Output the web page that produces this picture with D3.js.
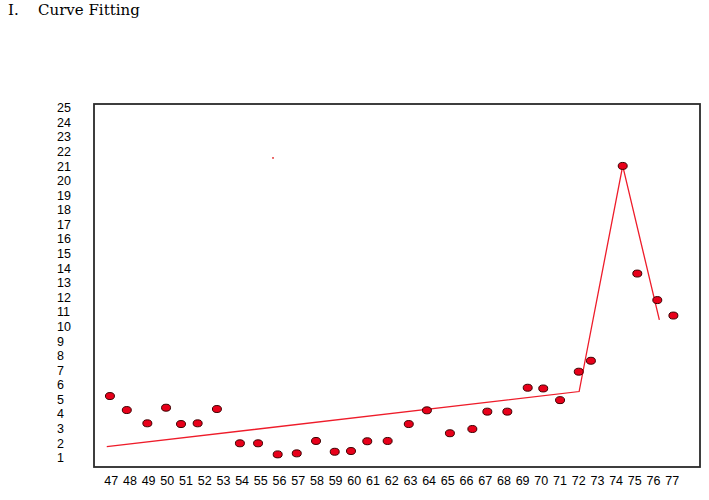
<!DOCTYPE html>
<html>
<head>
<meta charset="utf-8">
<script src="https://cdn.jsdelivr.net/npm/d3@7"></script>
<style>
  html, body { margin: 0; padding: 0; background: #fff; }
  svg { display: block; }
</style>
</head>
<body>
<svg id="chart" width="709" height="500"></svg>
<script>
// ---- data ----
const xTicks = d3.range(47, 78);           // 47 .. 77
const yTicks = d3.range(1, 26);            // 1 .. 25
// observed points (x read from picture, y values)
const pointAge = [46.96, 47.86, 48.96, 49.96, 50.76, 51.65, 52.68, 53.91, 54.88, 55.93,
                  56.95, 57.98, 58.98, 59.85, 60.72, 61.81, 62.94, 63.91, 65.14, 66.34,
                  67.14, 68.21, 69.30, 70.13, 71.03, 72.03, 72.68, 74.38, 75.16, 76.23, 77.09];
const pointValue = [5.2, 4.24, 3.33, 4.4, 3.28, 3.33, 4.31, 1.96, 1.96, 1.2,
                    1.27, 2.12, 1.38, 1.43, 2.1, 2.12, 3.28, 4.22, 2.65, 2.94,
                    4.13, 4.13, 5.77, 5.72, 4.92, 6.87, 7.62, 20.98, 13.6, 11.78, 10.72];
// fitted piecewise curve
const fitAge   = [46.79, 72.05, 74.38, 76.34];
const fitValue = [1.73, 5.51, 20.98, 10.42];
// stray mark
const strayAge = [55.68];
const strayValue = [21.53];

// ---- layout ----
const svg = d3.select("#chart");
const frame = { left: 94, top: 104, right: 700, bottom: 467 };

const x = d3.scaleLinear().domain([47, 77]).range([110.7, 671.7]);
const y = d3.scaleLinear().domain([1, 25]).range([457.3, 107.3]);

// title
const title = svg.append("g").attr("font-family", "'DejaVu Serif', serif").attr("font-size", 15).attr("fill", "#000");
title.append("text").attr("x", 8).attr("y", 15).text("I.");
title.append("text").attr("x", 38).attr("y", 15).text("Curve Fitting");

// frame
svg.append("rect")
  .attr("x", frame.left).attr("y", frame.top)
  .attr("width", frame.right - frame.left).attr("height", frame.bottom - frame.top)
  .attr("fill", "none").attr("stroke", "#2a2a2a").attr("stroke-width", 1.8);

// y axis labels (left-aligned)
const yAxis = d3.axisLeft(y).tickValues(yTicks).tickSize(0).tickPadding(0).tickFormat(d3.format("d"));
const yg = svg.append("g").attr("transform", "translate(57,0)").call(yAxis);
yg.select(".domain").remove();
yg.selectAll("text")
  .attr("text-anchor", "start").attr("x", 0).attr("dy", "0.35em")
  .attr("font-family", "'Liberation Sans', Arial, sans-serif").attr("font-size", 12.5).attr("fill", "#000");

// x axis labels
const xAxis = d3.axisBottom(x).tickValues(xTicks).tickSize(0).tickPadding(0).tickFormat(d3.format("d"));
const xg = svg.append("g").attr("transform", "translate(0,476)").call(xAxis);
xg.select(".domain").remove();
xg.selectAll("text")
  .attr("font-family", "'Liberation Sans', Arial, sans-serif").attr("font-size", 12.5).attr("fill", "#000");

// fitted line
const fitData = fitAge.map((a, i) => [a, fitValue[i]]);
svg.append("path")
  .datum(fitData)
  .attr("d", d3.line().x(d => x(d[0])).y(d => y(d[1])))
  .attr("fill", "none").attr("stroke", "#ee1c2a").attr("stroke-width", 1.3);

// points
const pts = pointAge.map((a, i) => ({ a, v: pointValue[i] }));
svg.append("g").selectAll("ellipse").data(pts).join("ellipse")
  .attr("cx", d => x(d.a)).attr("cy", d => y(d.v))
  .attr("rx", 4.5).attr("ry", 3.5)
  .attr("fill", "#e8001a").attr("stroke", "#3a0000").attr("stroke-width", 1);

// stray mark
svg.append("g").selectAll("circle").data(strayAge.map((a, i) => ({ a, v: strayValue[i] }))).join("circle")
  .attr("cx", d => x(d.a)).attr("cy", d => y(d.v)).attr("r", 0.9).attr("fill", "#e02020");
</script>
</body>
</html>
